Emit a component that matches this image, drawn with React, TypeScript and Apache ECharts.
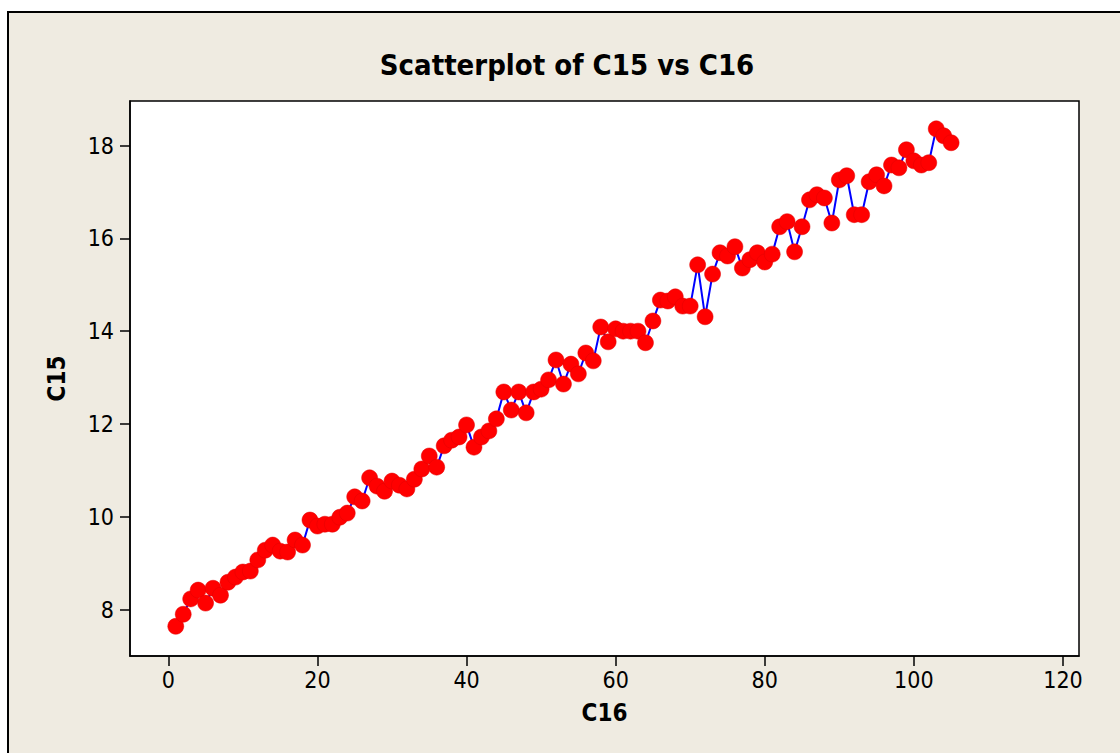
import React, { useEffect, useRef } from "react";
import * as echarts from "echarts";

const xValues: number[] = Array.from({ length: 105 }, (_, i) => i + 1);
const c15: number[] = [
  7.64, 7.90, 8.23, 8.42, 8.14, 8.46, 8.31, 8.59, 8.70, 8.81,
  8.83, 9.07, 9.28, 9.39, 9.26, 9.24, 9.50, 9.39, 9.93, 9.80,
  9.84, 9.84, 9.99, 10.08, 10.43, 10.34, 10.84, 10.66, 10.55, 10.77,
  10.68, 10.60, 10.81, 11.03, 11.31, 11.07, 11.53, 11.65, 11.72, 11.98,
  11.50, 11.72, 11.85, 12.11, 12.69, 12.30, 12.69, 12.24, 12.69, 12.75,
  12.95, 13.38, 12.86, 13.29, 13.08, 13.53, 13.36, 14.09, 13.77, 14.05,
  14.00, 14.00, 14.00, 13.75, 14.22, 14.67, 14.65, 14.74, 14.54, 14.54,
  15.43, 14.31, 15.23, 15.69, 15.62, 15.82, 15.36, 15.54, 15.69, 15.49,
  15.66, 16.25, 16.36, 15.71, 16.25, 16.83, 16.94, 16.87, 16.33, 17.26,
  17.35, 16.51, 16.51, 17.22, 17.37, 17.13, 17.58, 17.52, 17.91, 17.67,
  17.58, 17.63, 18.36, 18.21, 18.06,
];
const xTicks: number[] = [0, 20, 40, 60, 80, 100, 120];
const yTicks: number[] = [8, 10, 12, 14, 16, 18];

const FONT = "'DejaVu Sans Condensed', 'DejaVu Sans', Tahoma, sans-serif";

export default function App() {
  const ref = useRef<HTMLDivElement>(null);
  useEffect(() => {
    if (!ref.current) return;
    const chart = echarts.init(ref.current, undefined, { renderer: "svg" });
    const data = xValues.map((x, i) => [x, c15[i]]);
    chart.setOption({
      animation: false,
      backgroundColor: "#ffffff",
      textStyle: { fontFamily: FONT },
      title: {
        text: "Scatterplot of C15 vs C16",
        left: 562,
        top: 45,
        textAlign: "center",
        textStyle: { fontFamily: FONT, fontWeight: "bold", fontSize: 29, color: "#000" },
      },
      graphic: [
        {
          type: "rect",
          z: -10,
          shape: { x: 8, y: 12, width: 1200, height: 800 },
          style: { fill: "#EFEBE1", stroke: "#000", lineWidth: 2 },
          silent: true,
        },
      ],
      grid: {
        left: 130,
        top: 101,
        right: 41,
        bottom: 97,
        show: true,
        backgroundColor: "#ffffff",
        borderColor: "#000",
        borderWidth: 1.5,
      },
      xAxis: {
        type: "value",
        min: -5.14,
        max: 122.15,
        name: "C16",
        nameLocation: "middle",
        nameGap: 45,
        nameTextStyle: { fontFamily: FONT, fontWeight: "bold", fontSize: 24, color: "#000" },
        axisLine: { show: true, onZero: false, lineStyle: { color: "#000", width: 1.5 } },
        axisTick: { show: true, length: 10, customValues: xTicks, lineStyle: { color: "#000", width: 1.5 } },
        axisLabel: { customValues: xTicks, margin: 12, fontSize: 23, color: "#000", fontFamily: FONT },
        splitLine: { show: false },
      },
      yAxis: {
        type: "value",
        min: 7.0,
        max: 18.96,
        name: "C15",
        nameLocation: "middle",
        nameGap: 61,
        nameTextStyle: { fontFamily: FONT, fontWeight: "bold", fontSize: 24, color: "#000" },
        axisLine: { show: true, onZero: false, lineStyle: { color: "#000", width: 1.5 } },
        axisTick: { show: true, length: 10, customValues: yTicks, lineStyle: { color: "#000", width: 1.5 } },
        axisLabel: { customValues: yTicks, margin: 16, fontSize: 23, color: "#000", fontFamily: FONT },
        splitLine: { show: false },
      },
      series: [
        {
          type: "line",
          data,
          showAllSymbol: true,
          symbol: "circle",
          symbolSize: 16,
          itemStyle: { color: "#FF0000", borderColor: "#E00000", borderWidth: 0.5 },
          lineStyle: { color: "#0000FF", width: 2 },
          emphasis: { disabled: true },
        },
      ],
    });
    return () => chart.dispose();
  }, []);
  return (
    <div
      ref={ref}
      style={{ position: "fixed", left: 0, top: 0, width: 1120, height: 753 }}
    />
  );
}
